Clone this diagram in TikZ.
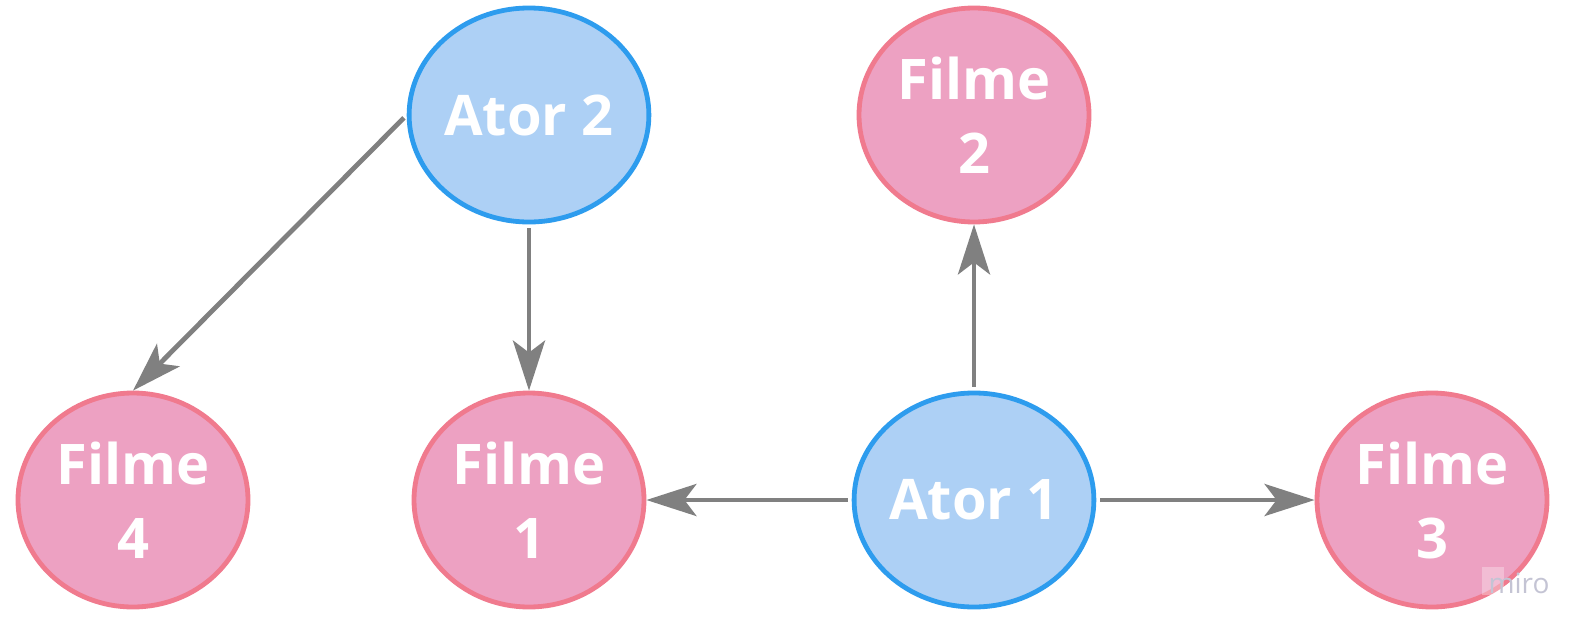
\documentclass[tikz,border=0pt]{standalone}
\usepackage{fontspec}
\setmainfont{Open Sans}
\usetikzlibrary{arrows.meta,shapes.geometric}
\definecolor{actfill}{RGB}{173,208,245}
\definecolor{actline}{RGB}{45,156,238}
\definecolor{filmfill}{RGB}{237,161,194}
\definecolor{filmline}{RGB}{240,122,142}
\definecolor{arrowgray}{RGB}{128,128,128}
\definecolor{mirogray}{RGB}{196,196,212}
\tikzset{
  oval/.style={ellipse, line width=2.4pt, minimum width=115pt, minimum height=107pt,
    inner sep=0pt, align=center, text=white,
    font=\fontsize{28}{37}\selectfont\bfseries},
  actor/.style={oval, draw=actline, fill=actfill},
  film/.style={oval, draw=filmline, fill=filmfill},
  link/.style={draw=arrowgray, line width=2.4pt, shorten <=2pt,
    -{Stealth[length=25pt, width=16pt, inset=6pt]}}
}
\begin{document}
\begin{tikzpicture}[x=0.5pt,y=-0.5pt]
\useasboundingbox (0,0) rectangle (1580,632);
\fill[white] (0,0) rectangle (1580,632);
\node[actor] (a2) at (529,115) {Ator 2};
\node[film] (f2) at (974,115) {Filme\\2};
\node[film] (f4) at (133,500) {Filme\\4};
\node[film] (f1) at (529,500) {Filme\\1};
\node[actor] (a1) at (974,500) {Ator 1};
\node[film] (f3) at (1432,500) {Filme\\3};
\draw[link] (a2.west) -- (f4.north);
\draw[link] (a2.south) -- (f1.north);
\draw[link] (a1.north) -- (f2.south);
\draw[link] (a1.west) -- (f1.east);
\draw[link] (a1.east) -- (f3.west);
\fill[white, opacity=0.3] (1482,567) rectangle (1504,595);
\node[text=mirogray, font=\fontsize{14}{16}\selectfont, inner sep=0pt] (miro) at (1519,583) {miro};
\end{tikzpicture}
\end{document}
